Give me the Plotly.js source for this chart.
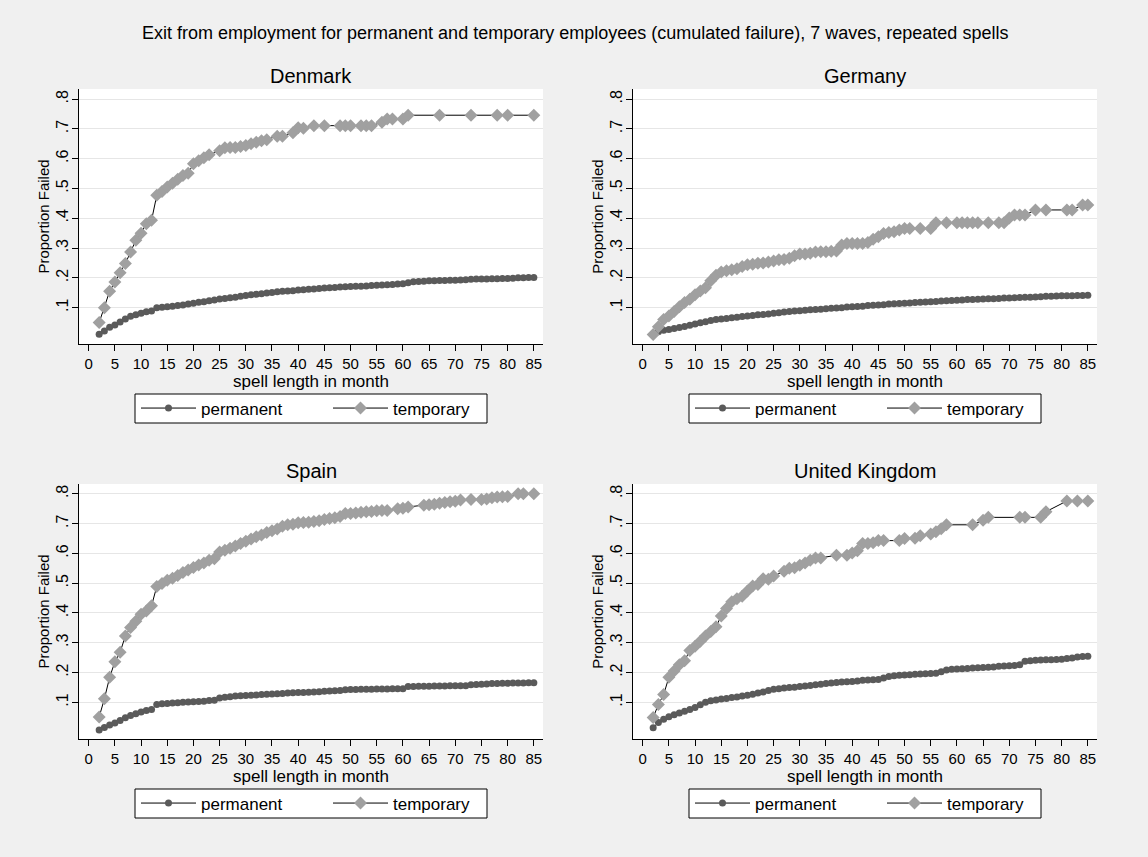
<!DOCTYPE html>
<html>
<head>
<meta charset="utf-8">
<script src="https://cdn.plot.ly/plotly-3.0.1.min.js"></script>
<style>html,body{margin:0;padding:0;background:#f0f0f0;}#chart{width:1148px;height:857px;}</style>
</head>
<body>
<div id="chart"></div>
<script>
// ---------- data ----------
var countries = ["Denmark", "Germany", "Spain", "United Kingdom"];
var seriesNames = ["permanent", "temporary"];
var yTickVals = [0.1, 0.2, 0.3, 0.4, 0.5, 0.6, 0.7, 0.8];
var yTickText = [".1", ".2", ".3", ".4", ".5", ".6", ".7", ".8"];
var xTickVals = [0,5,10,15,20,25,30,35,40,45,50,55,60,65,70,75,80,85];

// permanent employees: months 2..85
var permMonths = [2,3,4,5,6,7,8,9,10,11,12,13,14,15,16,17,18,19,20,21,22,23,24,25,26,27,28,29,30,31,32,33,34,35,36,37,38,39,40,41,42,43,44,45,46,47,48,49,50,51,52,53,54,55,56,57,58,59,60,61,62,63,64,65,66,67,68,69,70,71,72,73,74,75,76,77,78,79,80,81,82,83,84,85];
var permDK = [.011,.022,.034,.042,.052,.062,.071,.076,.081,.086,.089,.100,.101,.103,.105,.107,.109,.112,.115,.118,.120,.123,.126,.129,.131,.133,.135,.138,.141,.143,.145,.147,.149,.151,.153,.155,.156,.157,.159,.160,.162,.163,.164,.166,.167,.168,.169,.170,.171,.172,.172,.173,.174,.175,.176,.177,.178,.179,.180,.184,.187,.188,.189,.190,.190,.191,.191,.192,.192,.193,.194,.195,.196,.196,.196,.197,.197,.198,.198,.199,.200,.200,.201,.201];
var permDE = [.010,.019,.024,.027,.030,.033,.037,.041,.045,.049,.053,.057,.060,.062,.064,.066,.068,.070,.072,.074,.076,.077,.079,.081,.083,.085,.087,.089,.090,.091,.093,.094,.095,.096,.098,.099,.100,.102,.103,.104,.105,.107,.108,.109,.110,.112,.113,.114,.115,.116,.117,.118,.119,.120,.121,.122,.123,.124,.125,.126,.127,.127,.128,.129,.130,.130,.131,.132,.132,.133,.134,.135,.135,.136,.137,.138,.138,.139,.140,.140,.140,.141,.141,.142];
var permES = [.007,.016,.024,.031,.039,.048,.056,.062,.068,.073,.076,.093,.095,.096,.098,.099,.100,.101,.102,.103,.104,.106,.107,.115,.117,.119,.121,.122,.123,.124,.125,.126,.127,.128,.129,.130,.131,.132,.133,.133,.134,.135,.136,.137,.138,.139,.140,.142,.143,.143,.144,.144,.144,.145,.145,.145,.146,.146,.146,.153,.153,.154,.154,.154,.155,.155,.155,.156,.156,.156,.156,.159,.160,.161,.162,.163,.163,.164,.164,.165,.165,.165,.166,.166];
var permUK = [.015,.032,.043,.052,.058,.064,.070,.076,.083,.092,.100,.105,.108,.111,.113,.116,.118,.121,.124,.127,.131,.135,.140,.144,.146,.148,.150,.151,.153,.155,.157,.159,.161,.163,.165,.167,.168,.169,.170,.172,.174,.175,.176,.177,.182,.187,.189,.191,.192,.193,.194,.195,.196,.197,.198,.203,.209,.211,.212,.213,.214,.215,.216,.217,.218,.219,.221,.222,.223,.224,.226,.238,.240,.241,.242,.243,.243,.244,.245,.247,.249,.252,.254,.255];

// temporary employees
var tempDKMonths = [2,3,4,5,6,7,8,9,10,11,12,13,14,15,16,17,18,19,20,21,22,23,25,26,27,28,29,30,31,32,33,34,36,37,39,40,41,43,45,48,49,50,52,53,54,56,57,58,60,61,67,73,78,80,85];
var tempDK = [.050,.100,.155,.186,.217,.248,.287,.326,.350,.382,.393,.477,.490,.505,.518,.531,.544,.551,.583,.593,.603,.613,.627,.637,.638,.638,.641,.644,.650,.655,.660,.664,.675,.675,.687,.704,.702,.711,.711,.711,.711,.711,.711,.711,.711,.722,.733,.733,.733,.746,.746,.746,.746,.746,.746];
var tempDEMonths = [2,3,4,5,6,7,8,9,10,11,12,13,14,15,16,17,18,19,20,21,22,23,24,25,26,27,28,29,30,31,32,33,34,35,36,37,38,39,40,41,42,43,44,45,46,47,48,49,50,51,53,55,56,58,60,61,62,63,64,66,68,69,70,71,72,73,75,77,81,82,84,85];
var tempDE = [.010,.036,.060,.072,.087,.103,.117,.128,.143,.156,.167,.190,.209,.220,.224,.227,.231,.238,.244,.246,.249,.250,.253,.257,.261,.262,.266,.274,.280,.280,.283,.287,.288,.288,.289,.290,.310,.315,.315,.315,.315,.319,.330,.338,.349,.352,.355,.361,.366,.366,.366,.366,.385,.385,.385,.385,.385,.385,.385,.385,.385,.385,.401,.411,.411,.411,.428,.428,.428,.428,.445,.445];
var tempESMonths = [2,3,4,5,6,7,8,9,10,11,12,13,14,15,16,17,18,19,20,21,22,23,24,25,26,27,28,29,30,31,32,33,34,35,36,37,38,39,40,41,42,43,44,45,46,47,48,49,50,51,52,53,54,55,56,57,59,60,61,64,65,66,67,68,69,70,71,73,75,76,77,78,79,80,82,83,85];
var tempES = [.051,.112,.184,.236,.268,.323,.351,.372,.396,.407,.424,.489,.499,.510,.517,.526,.536,.544,.553,.561,.568,.577,.582,.605,.611,.617,.625,.633,.641,.648,.656,.662,.670,.676,.682,.691,.696,.698,.703,.704,.705,.707,.710,.714,.717,.720,.724,.734,.734,.736,.738,.740,.741,.743,.744,.744,.750,.752,.756,.762,.763,.765,.768,.771,.773,.775,.779,.781,.781,.783,.787,.789,.790,.791,.800,.800,.800];
var tempUKMonths = [2,3,4,5,6,7,8,9,10,11,12,13,14,15,16,17,18,19,20,21,22,23,24,25,27,28,29,30,31,32,33,34,37,39,40,41,42,43,44,45,46,49,50,52,53,55,56,57,58,63,65,66,72,73,76,77,81,83,85];
var tempUK = [.049,.093,.126,.184,.205,.226,.240,.274,.288,.305,.323,.338,.354,.390,.415,.438,.448,.456,.474,.491,.496,.515,.513,.524,.540,.550,.552,.560,.568,.577,.585,.585,.594,.594,.601,.609,.633,.633,.636,.643,.643,.643,.650,.651,.659,.665,.673,.683,.696,.696,.711,.721,.721,.721,.721,.740,.776,.776,.776];

var permData = [permDK, permDE, permES, permUK];
var tempX = [tempDKMonths, tempDEMonths, tempESMonths, tempUKMonths];
var tempY = [tempDK, tempDE, tempES, tempUK];

// ---------- layout ----------
var W = 1148, H = 857;
var FONT = "Liberation Sans, Arial, sans-serif";
var xDomains = [[79/W, 543/W], [633/W, 1097/W], [79/W, 543/W], [633/W, 1097/W]];
var yDomains = [[1-344/H, 1-89/H], [1-344/H, 1-89/H], [1-739/H, 1-484/H], [1-739/H, 1-484/H]];
// legend boxes in pixels: [left, top, right, bottom]
var legendBoxes = [[135, 394, 487, 423], [689, 394, 1041, 423], [135, 789, 487, 818], [689, 789, 1041, 818]];

var traces = [];
var layout = {
  width: W, height: H,
  margin: {l: 0, r: 0, t: 0, b: 0},
  paper_bgcolor: "#f0f0f0",
  plot_bgcolor: "#ffffff",
  font: {family: FONT, color: "#000"},
  showlegend: true,
  shapes: [],
  annotations: [{
    text: "Exit from employment for permanent and temporary employees (cumulated failure), 7 waves, repeated spells",
    xref: "paper", yref: "paper", x: 575/W, y: 1 - 33/H, xanchor: "center", yanchor: "middle",
    showarrow: false, font: {size: 18, family: FONT, color: "#000"}
  }]
};

for (var i = 0; i < 4; i++) {
  var sfx = i === 0 ? "" : String(i + 1);
  var lg = i === 0 ? "legend" : "legend" + (i + 1);
  traces.push({
    x: permMonths, y: permData[i], name: seriesNames[0], type: "scatter", mode: "lines+markers",
    xaxis: "x" + sfx, yaxis: "y" + sfx, legend: lg,
    line: {color: "#000", width: 1},
    marker: {symbol: "circle", size: 7, color: "#5a5a5a"}
  });
  traces.push({
    x: tempX[i], y: tempY[i], name: seriesNames[1], type: "scatter", mode: "lines+markers",
    xaxis: "x" + sfx, yaxis: "y" + sfx, legend: lg,
    line: {color: "#000", width: 1},
    marker: {symbol: "diamond", size: 10, color: "#a0a0a0"}
  });
  var yr = i < 2 ? [-0.022, 0.834] : [-0.023, 0.833];
  layout["xaxis" + sfx] = {
    domain: xDomains[i], anchor: "y" + sfx, range: [-1.85, 86.75],
    tickmode: "array", tickvals: xTickVals, ticks: "outside", ticklen: 6, tickcolor: "#000",
    showline: true, linecolor: "#000", linewidth: 1, showgrid: false, zeroline: false,
    tickfont: {size: 15, family: FONT}, fixedrange: true,
    title: {text: "spell length in month", font: {size: 17, family: FONT}, standoff: 0}
  };
  layout["yaxis" + sfx] = {
    domain: yDomains[i], anchor: "x" + sfx, range: yr,
    tickmode: "array", tickvals: yTickVals, ticktext: yTickText, tickangle: -90,
    ticks: "outside", ticklen: 6, tickcolor: "#000", ticklabelstandoff: -2,
    showline: true, linecolor: "#000", linewidth: 1, showgrid: true, gridcolor: "#e6e6e6", gridwidth: 1,
    zeroline: false, tickfont: {size: 16, family: FONT}, fixedrange: true,
    title: {text: "Proportion Failed", font: {size: 15, family: FONT}, standoff: 0}
  };
  var b = legendBoxes[i];
  layout[lg] = {
    x: (b[0] + 1) / W, y: 1 - ((b[1] + b[3]) / 2) / H, xanchor: "left", yanchor: "middle",
    orientation: "h", bgcolor: "rgba(0,0,0,0)", borderwidth: 0,
    font: {size: 17, family: FONT}, itemwidth: 55, entrywidth: 122, entrywidthmode: "pixels",
    itemclick: false, itemdoubleclick: false
  };
  layout.shapes.push({
    type: "rect", xref: "paper", yref: "paper",
    x0: b[0] / W, x1: b[2] / W, y0: 1 - b[3] / H, y1: 1 - b[1] / H,
    line: {color: "#000", width: 1}, fillcolor: "#ffffff", layer: "below"
  });
  var cx = (xDomains[i][0] + xDomains[i][1]) / 2;
  layout.annotations.push({
    text: countries[i], xref: "paper", yref: "paper", x: cx, y: yDomains[i][1] + 13/H,
    xanchor: "center", yanchor: "middle", showarrow: false,
    font: {size: 20, family: FONT, color: "#000"}
  });
}

Plotly.newPlot("chart", traces, layout, {displayModeBar: false, staticPlot: true});
</script>
</body>
</html>
